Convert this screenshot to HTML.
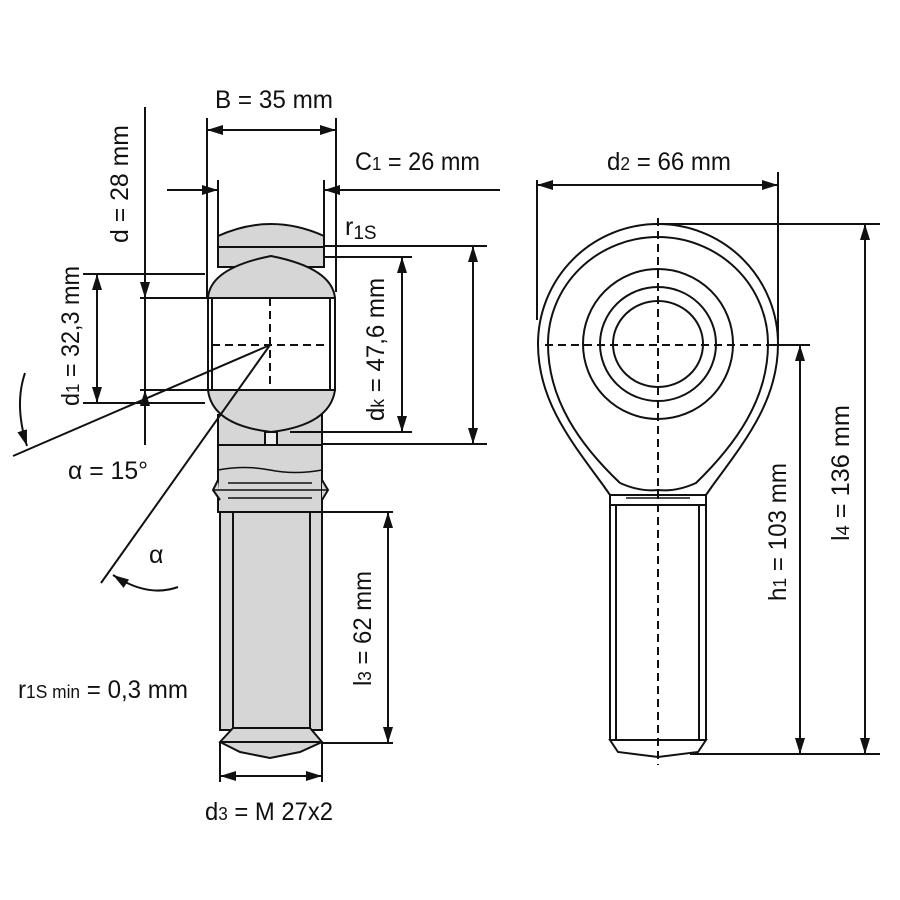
<!DOCTYPE html>
<html><head><meta charset="utf-8"><style>
html,body{margin:0;padding:0;background:#fff}
svg{display:block}
text{font-family:"Liberation Sans Narrow","Liberation Sans",sans-serif;font-size:25px;fill:#111}
</style></head><body>
<svg width="900" height="900" viewBox="0 0 900 900" xmlns="http://www.w3.org/2000/svg">
<defs>
<marker id="a" viewBox="0 0 16 10" refX="16" refY="5" markerWidth="16" markerHeight="10" markerUnits="userSpaceOnUse" orient="auto-start-reverse"><path d="M0,0 L16,5 L0,10 Z" fill="#111"/></marker>
</defs>
<g stroke="#111" stroke-width="2" fill="none">
<!-- LEFT VIEW part -->
<rect x="218" y="415" width="104" height="97" fill="#d6d6d6"/>
<path d="M218,247 L218,236 Q271,212 324,236 L324,247 Z" fill="#d6d6d6"/>
<rect x="218" y="247" width="106" height="20" fill="#d6d6d6"/>
<path d="M208,298 Q210,268 271,256 Q332,268 335,298 Z" fill="#d6d6d6"/>
<rect x="208" y="298" width="127" height="92" fill="#fff"/>
<line x1="212" y1="298" x2="212" y2="390"/><line x1="330" y1="298" x2="330" y2="390"/>
<path d="M208,390 L335,390 Q330,425 271,432 Q212,425 208,390 Z" fill="#d6d6d6"/>
<rect x="265" y="432" width="12" height="13" fill="#eee"/>
<line x1="218" y1="445" x2="322" y2="445"/>
<path d="M218,470 Q245,465 270,470 Q295,475 322,470" stroke-width="1.5"/>
<path d="M218,480 L213,490 L220,500" fill="#d6d6d6"/>
<path d="M322,480 L328,490 L322,500" fill="#d6d6d6"/>
<line x1="228" y1="483" x2="312" y2="483" stroke-width="1.5"/>
<line x1="213" y1="490" x2="328" y2="490" stroke-width="1.5"/>
<line x1="228" y1="498" x2="312" y2="498" stroke-width="1.5"/>
<line x1="218" y1="512" x2="322" y2="512"/>
<rect x="220" y="512" width="102" height="218" fill="#d6d6d6"/>
<line x1="233" y1="512" x2="233" y2="728"/><line x1="310" y1="512" x2="310" y2="728"/>
<path d="M220,742 L233,728 L310,728 L322,742 L300,752 L270,758 L240,752 Z" fill="#d6d6d6"/>
<line x1="220" y1="742" x2="322" y2="742"/>
<!-- dashed center -->
<line x1="270" y1="298" x2="270" y2="390" stroke-dasharray="8,5"/>
<line x1="212" y1="345" x2="330" y2="345" stroke-dasharray="8,5"/>
<!-- B -->
<line x1="207" y1="118" x2="207" y2="298"/><line x1="336" y1="118" x2="336" y2="292"/>
<line x1="207" y1="130" x2="336" y2="130" marker-start="url(#a)" marker-end="url(#a)"/>
<!-- C1 -->
<line x1="218" y1="180" x2="218" y2="240"/><line x1="324" y1="180" x2="324" y2="240"/>
<line x1="167" y1="190" x2="218" y2="190" marker-end="url(#a)"/>
<line x1="500" y1="190" x2="324" y2="190" marker-end="url(#a)"/>
<!-- d -->
<line x1="145" y1="107" x2="145" y2="298" marker-end="url(#a)"/>
<line x1="145" y1="445" x2="145" y2="390" marker-end="url(#a)"/>
<line x1="145" y1="298" x2="145" y2="390"/>
<line x1="140" y1="298" x2="208" y2="298"/><line x1="140" y1="390" x2="208" y2="390"/>
<!-- d1 -->
<line x1="83" y1="274" x2="205" y2="274"/><line x1="83" y1="403" x2="205" y2="403"/>
<line x1="97" y1="274" x2="97" y2="403" marker-start="url(#a)" marker-end="url(#a)"/>
<!-- dk -->
<line x1="324" y1="257" x2="412" y2="257"/><line x1="290" y1="432" x2="412" y2="432"/>
<line x1="402" y1="257" x2="402" y2="432" marker-start="url(#a)" marker-end="url(#a)"/>
<!-- outer -->
<line x1="324" y1="246" x2="487" y2="246"/><line x1="322" y1="444" x2="487" y2="444"/>
<line x1="473" y1="246" x2="473" y2="444" marker-start="url(#a)" marker-end="url(#a)"/>
<!-- angles -->
<line x1="270" y1="345" x2="13" y2="456"/>
<line x1="270" y1="345" x2="101" y2="583"/>
<path d="M25,373 Q14,405 27,446" marker-end="url(#a)"/>
<path d="M178,587 Q148,598 113,575" marker-end="url(#a)"/>
<!-- l3 -->
<line x1="322" y1="512" x2="393" y2="512"/><line x1="322" y1="743" x2="393" y2="743"/>
<line x1="388" y1="512" x2="388" y2="743" marker-start="url(#a)" marker-end="url(#a)"/>
<!-- d3 -->
<line x1="220" y1="742" x2="220" y2="782"/><line x1="322" y1="742" x2="322" y2="782"/>
<line x1="220" y1="776" x2="322" y2="776" marker-start="url(#a)" marker-end="url(#a)"/>

<!-- RIGHT VIEW -->
<path d="M603,485 C570,440 538,400 538,344 A120,120 0 0 1 778,344 C778,400 746,440 713,485"/>
<path d="M620,483 C580,445 548,400 548,344 A110,107 0 0 1 768,344 C768,400 735,445 696,483 Q676,492 658,490 Q640,492 620,483"/>
<path d="M603,485 L610,495 L706,495 L713,485"/>
<line x1="626" y1="498" x2="690" y2="498" stroke-width="1.5"/>
<line x1="610" y1="505" x2="706" y2="505"/>
<line x1="610" y1="495" x2="610" y2="740"/><line x1="706" y1="495" x2="706" y2="740"/>
<line x1="616" y1="505" x2="616" y2="740"/><line x1="699" y1="505" x2="699" y2="740"/>
<path d="M610,740 L706,740 L698,752 L658,757 L618,752 Z"/>
<circle cx="658" cy="344" r="75"/>
<ellipse cx="658" cy="344" rx="58" ry="57"/>
<ellipse cx="658" cy="344" rx="45" ry="43"/>
<line x1="658" y1="218" x2="658" y2="765" stroke-dasharray="8,5"/>
<line x1="545" y1="345" x2="770" y2="345" stroke-dasharray="8,5"/>
<line x1="770" y1="345" x2="810" y2="345"/>
<!-- d2 -->
<line x1="537" y1="180" x2="537" y2="320"/><line x1="778" y1="172" x2="778" y2="340"/>
<line x1="537" y1="185" x2="778" y2="185" marker-start="url(#a)" marker-end="url(#a)"/>
<!-- h1 / l4 -->
<line x1="658" y1="224" x2="880" y2="224"/>
<line x1="690" y1="754" x2="880" y2="754"/>
<line x1="800" y1="345" x2="800" y2="754" marker-start="url(#a)" marker-end="url(#a)"/>
<line x1="865" y1="224" x2="865" y2="754" marker-start="url(#a)" marker-end="url(#a)"/>
</g>

<!-- TEXT -->
<text x="215" y="108" textLength="118" lengthAdjust="spacingAndGlyphs">B = 35 mm</text>
<text x="355" y="170" textLength="125" lengthAdjust="spacingAndGlyphs">C<tspan font-size="18">1</tspan> = 26 mm</text>
<text x="345" y="235">r<tspan font-size="19" dy="4">1S</tspan></text>
<text transform="translate(128,243) rotate(-90)" textLength="118" lengthAdjust="spacingAndGlyphs">d = 28 mm</text>
<text transform="translate(79,406) rotate(-90)" textLength="140" lengthAdjust="spacingAndGlyphs">d<tspan font-size="18">1</tspan> = 32,3 mm</text>
<text transform="translate(384,421) rotate(-90)" textLength="143" lengthAdjust="spacingAndGlyphs">d<tspan font-size="18">k</tspan> = 47,6 mm</text>
<text transform="translate(371,686) rotate(-90)" textLength="115" lengthAdjust="spacingAndGlyphs">l<tspan font-size="18">3</tspan> = 62 mm</text>
<text transform="translate(786,601) rotate(-90)" textLength="138" lengthAdjust="spacingAndGlyphs">h<tspan font-size="18">1</tspan> = 103 mm</text>
<text transform="translate(849,541) rotate(-90)" textLength="136" lengthAdjust="spacingAndGlyphs">l<tspan font-size="18">4</tspan> = 136 mm</text>
<text x="607" y="170" textLength="124" lengthAdjust="spacingAndGlyphs">d<tspan font-size="18">2</tspan> = 66 mm</text>
<text x="68" y="479" textLength="80" lengthAdjust="spacingAndGlyphs">α = 15°</text>
<text x="149" y="563">α</text>
<text x="18" y="698" textLength="170" lengthAdjust="spacingAndGlyphs">r<tspan font-size="18">1S min</tspan> = 0,3 mm</text>
<text x="205" y="820" textLength="128" lengthAdjust="spacingAndGlyphs">d<tspan font-size="18">3</tspan> = M 27x2</text>
</svg>
</body></html>
